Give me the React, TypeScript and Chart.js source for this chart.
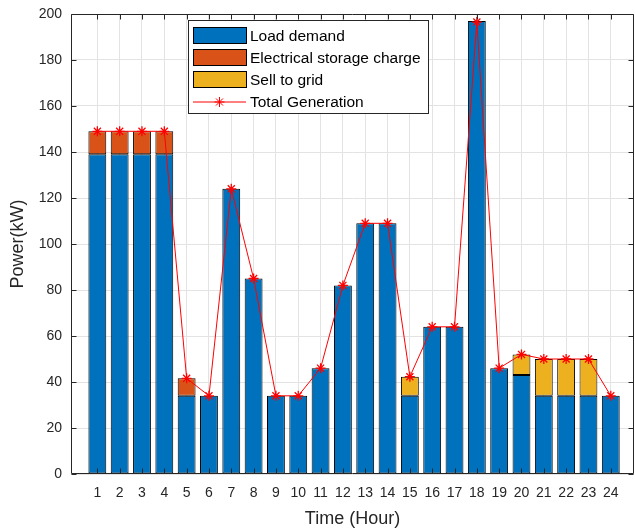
import React, { useEffect, useRef } from 'react';
import { Chart, registerables } from 'chart.js';

Chart.register(...registerables);

const hours = [1, 2, 3, 4, 5, 6, 7, 8, 9, 10, 11, 12, 13, 14, 15, 16, 17, 18, 19, 20, 21, 22, 23, 24];
const loadDemand = [139, 139, 139, 139, 34, 34, 124, 85, 34, 34, 46, 82, 109, 109, 34, 64, 64, 197, 46, 43, 34, 34, 34, 34];
const storageCharge = [10, 10, 10, 10, 7.6, 0, 0, 0, 0, 0, 0, 0, 0, 0, 0, 0, 0, 0, 0, 0, 0, 0, 0, 0];
const sellToGrid = [0, 0, 0, 0, 0, 0, 0, 0, 0, 0, 0, 0, 0, 0, 8.3, 0, 0, 0, 0, 9, 16, 16, 16, 0];
const totalGeneration = [149, 149, 149, 149, 41.6, 34, 124, 85, 34, 34, 46, 82, 109, 109, 42.3, 64, 64, 196.5, 46, 52, 50, 50, 50, 34];
const yTickValues = [0, 20, 40, 60, 80, 100, 120, 140, 160, 180, 200];
const legendLabels = ['Load demand', 'Electrical storage charge', 'Sell to grid', 'Total Generation'];

const FONT = '"Liberation Sans", Arial, Helvetica, sans-serif';
const BLUE = '#0072BD';
const ORANGE = '#D95319';
const YELLOW = '#EDB120';
const RED = '#FF0000';
const AXIS = '#262626';

function drawStar(ctx: CanvasRenderingContext2D, x: number, y: number, r: number) {
  ctx.beginPath();
  for (let k = 0; k < 4; k++) {
    const a = (k * Math.PI) / 4;
    ctx.moveTo(x - Math.cos(a) * r, y - Math.sin(a) * r);
    ctx.lineTo(x + Math.cos(a) * r, y + Math.sin(a) * r);
  }
  ctx.stroke();
}

export default function App() {
  const ref = useRef<HTMLCanvasElement>(null);

  useEffect(() => {
    document.body.style.margin = '0';
    const canvas = ref.current;
    if (!canvas) return;
    const pts = (arr: number[]) => hours.map((h, i) => ({ x: h, y: arr[i] }));

    const boxPlugin = {
      id: 'matlabBox',
      afterDatasetsDraw(chart: any) {
        const { ctx, chartArea: a, scales } = chart;
        const L = Math.round(a.left) + 0.5;
        const R = Math.round(a.right) - 0.5;
        const T = Math.round(a.top) + 0.5;
        const B = Math.round(a.bottom) - 0.5;
        ctx.save();
        ctx.strokeStyle = AXIS;
        ctx.lineWidth = 1;
        ctx.beginPath();
        ctx.rect(L, T, R - L, B - T);
        ctx.stroke();
        const tl = 5;
        ctx.beginPath();
        hours.forEach((h) => {
          const x = Math.round(scales.x.getPixelForValue(h)) + 0.5;
          ctx.moveTo(x, B);
          ctx.lineTo(x, B - tl);
          ctx.moveTo(x, T);
          ctx.lineTo(x, T + tl);
        });
        yTickValues.forEach((v) => {
          const y = Math.round(scales.y.getPixelForValue(v)) + 0.5;
          ctx.moveTo(L, y);
          ctx.lineTo(L + tl, y);
          ctx.moveTo(R, y);
          ctx.lineTo(R - tl, y);
        });
        ctx.stroke();
        ctx.restore();
      },
      afterDraw(chart: any) {
        const { ctx } = chart;
        ctx.save();
        const bx = 188.5, by = 20.5, bw = 240, bh = 93;
        ctx.fillStyle = '#ffffff';
        ctx.fillRect(bx, by, bw, bh);
        ctx.strokeStyle = AXIS;
        ctx.lineWidth = 1;
        ctx.strokeRect(bx, by, bw, bh);
        const colors = [BLUE, ORANGE, YELLOW];
        ctx.font = `15.5px ${FONT}`;
        ctx.textBaseline = 'middle';
        ctx.textAlign = 'left';
        legendLabels.forEach((label, i) => {
          const cy = 35.5 + 22 * i;
          if (i < 3) {
            ctx.fillStyle = colors[i];
            ctx.fillRect(193.5, cy - 8, 53, 16);
            ctx.strokeStyle = '#000000';
            ctx.strokeRect(193.5, cy - 8, 53, 16);
          } else {
            ctx.strokeStyle = RED;
            ctx.beginPath();
            ctx.moveTo(193, cy + 0.5);
            ctx.lineTo(246, cy + 0.5);
            ctx.stroke();
            drawStar(ctx, 219.5, cy + 0.5, 5);
          }
          ctx.fillStyle = '#000000';
          ctx.fillText(label, 250, cy + 1);
        });
        ctx.restore();
      },
    };

    const chart = new Chart(canvas, {
      type: 'bar',
      data: {
        datasets: [
          {
            type: 'line',
            label: 'Total Generation',
            data: pts(totalGeneration),
            borderColor: RED,
            borderWidth: 1,
            pointStyle: 'star',
            pointRadius: 5,
            pointBorderColor: RED,
            pointBorderWidth: 1.3,
            pointBackgroundColor: RED,
            fill: false,
            tension: 0,
            order: 0,
            stack: 'line',
          } as any,
          {
            label: 'Load demand',
            data: pts(loadDemand),
            backgroundColor: BLUE,
            borderColor: '#000000',
            borderWidth: 1,
            borderSkipped: false,
            barPercentage: 0.8,
            categoryPercentage: 1,
            order: 1,
          },
          {
            label: 'Electrical storage charge',
            data: pts(storageCharge),
            backgroundColor: ORANGE,
            borderColor: '#000000',
            borderWidth: 1,
            borderSkipped: false,
            barPercentage: 0.8,
            categoryPercentage: 1,
            order: 1,
          },
          {
            label: 'Sell to grid',
            data: pts(sellToGrid),
            backgroundColor: YELLOW,
            borderColor: '#000000',
            borderWidth: 1,
            borderSkipped: false,
            barPercentage: 0.8,
            categoryPercentage: 1,
            order: 1,
          },
        ],
      },
      options: {
        responsive: false,
        animation: false,
        layout: { autoPadding: false, padding: { left: 0, right: 1, top: 14, bottom: 0 } },
        plugins: { legend: { display: false }, tooltip: { enabled: false } },
        scales: {
          x: {
            type: 'linear',
            min: -0.18,
            max: 25.04,
            offset: false,
            stacked: true,
            afterBuildTicks: (s: any) => {
              s.ticks = hours.map((v) => ({ value: v }));
            },
            afterFit: (s: any) => {
              s.height = 57;
              s.paddingLeft = 0;
              s.paddingRight = 0;
            },
            grid: { color: '#e3e3e3', drawTicks: false, offset: false },
            border: { display: false },
            ticks: {
              padding: 11,
              color: AXIS,
              autoSkip: false,
              maxRotation: 0,
              font: { family: FONT, size: 14 },
              callback: (v: any) => String(v),
            },
            title: {
              display: true,
              text: 'Time (Hour)',
              color: AXIS,
              font: { family: FONT, size: 18 },
              padding: { top: 0, bottom: 1 },
            },
          },
          y: {
            min: 0,
            max: 200,
            stacked: true,
            afterBuildTicks: (s: any) => {
              s.ticks = yTickValues.map((v) => ({ value: v }));
            },
            afterFit: (s: any) => {
              s.width = 71;
              s.paddingTop = 0;
              s.paddingBottom = 0;
            },
            grid: { color: '#e3e3e3', drawTicks: false },
            border: { display: false },
            ticks: {
              padding: 9,
              color: AXIS,
              font: { family: FONT, size: 14 },
              callback: (v: any) => String(v),
            },
            title: {
              display: true,
              text: 'Power(kW)',
              color: AXIS,
              font: { family: FONT, size: 18 },
              padding: { top: 7, bottom: 0 },
            },
          },
        },
      },
      plugins: [boxPlugin],
    });

    return () => chart.destroy();
  }, []);

  return <canvas ref={ref} width={635} height={531} style={{ display: 'block' }} />;
}
